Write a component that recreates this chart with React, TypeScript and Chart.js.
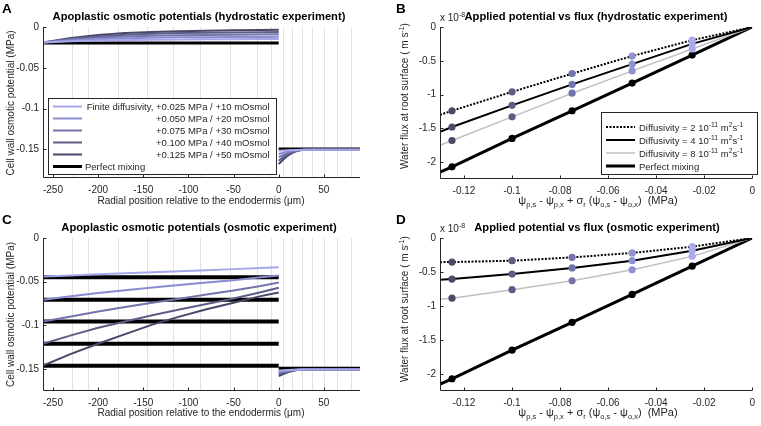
import React, { useEffect, useRef } from "react";
import { Chart, registerables } from "chart.js";

Chart.register(...registerables);

const FONT = '"Liberation Sans", Arial, Helvetica, sans-serif';
const INK = "#262626";

// ---------- Panels A & C : radial position (µm) ----------
const POS_TICKS = [-250, -200, -150, -100, -50, 0, 50];
const POS_TICK_LABELS = ["-250", "-200", "-150", "-100", "-50", "0", "50"];
const OSM_TICKS = [0, -0.05, -0.1, -0.15];
const OSM_TICK_LABELS = ["0", "-0.05", "-0.1", "-0.15"];
const CELL_WALLS = [-229, -211, -178, -146, -117, -87, -54, -24, -8, 5, 15, 26, 36.5, 50, 64, 80];

const POS_CORTEX = [-261, -230, -200, -170, -140, -110, -80, -50, -20, 0];
const POS_STELE = [0, 5, 10, 15, 20, 25, 30, 90];
const POS_MIX_CORTEX = [-261, 0];
const POS_MIX_STELE = [0, 90];

// Panel A (hydrostatic experiment)
const A_CORTEX_1 = [-0.019, -0.0175, -0.0165, -0.0159, -0.0155, -0.0152, -0.0151, -0.0149, -0.01485, -0.0148];
const A_CORTEX_2 = [-0.019, -0.0165, -0.0149, -0.0138, -0.0132, -0.0127, -0.0125, -0.0122, -0.0121, -0.012];
const A_CORTEX_3 = [-0.019, -0.0154, -0.0131, -0.0116, -0.0107, -0.01005, -0.00965, -0.00935, -0.0091, -0.009];
const A_CORTEX_4 = [-0.019, -0.0144, -0.0115, -0.0095, -0.0084, -0.0075, -0.007, -0.0067, -0.0064, -0.0062];
const A_CORTEX_5 = [-0.019, -0.0134, -0.0099, -0.0075, -0.0061, -0.0051, -0.0045, -0.004, -0.0037, -0.0035];
const A_STELE_1 = [-0.1515, -0.1512, -0.1509, -0.1507, -0.1506, -0.1505, -0.1505, -0.1505];
const A_STELE_2 = [-0.1555, -0.1539, -0.1526, -0.1516, -0.1509, -0.1506, -0.1505, -0.1505];
const A_STELE_3 = [-0.1595, -0.1566, -0.1542, -0.1524, -0.1512, -0.1506, -0.1505, -0.1505];
const A_STELE_4 = [-0.1638, -0.1595, -0.156, -0.1534, -0.1516, -0.1506, -0.1505, -0.1505];
const A_STELE_5 = [-0.168, -0.1623, -0.1577, -0.1543, -0.1519, -0.1507, -0.1505, -0.1505];
const A_MIX_CORTEX = [-0.0195, -0.0195];
const A_MIX_STELE = [-0.1495, -0.1495];

// Panel C (osmotic experiment)
const C_CORTEX_1 = [-0.044, -0.0428, -0.0416, -0.0404, -0.0392, -0.038, -0.0368, -0.0356, -0.0344, -0.0335];
const C_CORTEX_2 = [-0.0705, -0.0665, -0.063, -0.0597, -0.0566, -0.0537, -0.0509, -0.0482, -0.045, -0.043];
const C_CORTEX_3 = [-0.0955, -0.0897, -0.0841, -0.079, -0.074, -0.0694, -0.0647, -0.06, -0.0548, -0.0508];
const C_CORTEX_4 = [-0.121, -0.1114, -0.1027, -0.0954, -0.0883, -0.0819, -0.0755, -0.0691, -0.062, -0.0569];
const C_CORTEX_5 = [-0.146, -0.1326, -0.1209, -0.11, -0.0991, -0.0899, -0.0815, -0.074, -0.0665, -0.0623];
const C_STELE_1 = [-0.1515, -0.1512, -0.1509, -0.1507, -0.1506, -0.1505, -0.1505, -0.1505];
const C_STELE_2 = [-0.153, -0.1522, -0.1515, -0.151, -0.1507, -0.1505, -0.1505, -0.1505];
const C_STELE_3 = [-0.1545, -0.1532, -0.1522, -0.1514, -0.1508, -0.1505, -0.1505, -0.1505];
const C_STELE_4 = [-0.1562, -0.1543, -0.1529, -0.1517, -0.151, -0.1506, -0.1505, -0.1505];
const C_STELE_5 = [-0.158, -0.1556, -0.1536, -0.1521, -0.1511, -0.1506, -0.1505, -0.1505];
const C_MIX_LEVELS = [-0.045, -0.0705, -0.0955, -0.121, -0.146];
const C_MIX_STELE = [-0.1495, -0.1495];

const SHADES = ["#a6a6ea", "#8b8bd0", "#7474ae", "#5d5d88", "#474766"];
const A_LEGEND_LABELS = [
  "Finite diffusivity, +0.025 MPa / +10 mOsmol",
  "+0.050 MPa / +20 mOsmol",
  "+0.075 MPa / +30 mOsmol",
  "+0.100 MPa / +40 mOsmol",
  "+0.125 MPa / +50 mOsmol",
];

// ---------- Panels B & D : applied potential (MPa) vs flux (x 1e-8 m/s) ----------
const PSI_TICKS = [-0.12, -0.1, -0.08, -0.06, -0.04, -0.02, 0];
const PSI_TICK_LABELS = ["-0.12", "-0.1", "-0.08", "-0.06", "-0.04", "-0.02", "0"];
const FLUX_TICKS = [0, -0.5, -1, -1.5, -2];
const FLUX_TICK_LABELS = ["0", "-0.5", "-1", "-1.5", "-2"];

const PSI = [-0.13, -0.125, -0.1, -0.075, -0.05, -0.025, 0];
const B_D2 = [-1.3, -1.24, -0.96, -0.69, -0.43, -0.195, 0];
const B_D4 = [-1.55, -1.48, -1.16, -0.85, -0.55, -0.25, 0];
const B_D8 = [-1.75, -1.68, -1.33, -0.98, -0.65, -0.325, 0];
const B_MIX = [-2.15, -2.07, -1.65, -1.24, -0.83, -0.415, 0];
const D_D2 = [-0.355, -0.354, -0.334, -0.285, -0.22, -0.128, 0];
const D_D4 = [-0.614, -0.604, -0.53, -0.44, -0.334, -0.187, 0];
const D_D8 = [-0.9, -0.885, -0.76, -0.63, -0.467, -0.27, 0];
const D_MIX = [-2.15, -2.07, -1.65, -1.24, -0.83, -0.415, 0];
const DOT_COLORS = ["#4b4b69", "#5c5c85", "#7474ac", "#9090d3", "#a9a9ee"];

// ---------- helpers ----------
const pts = (xs: number[], ys: number[]) => xs.map((x, i) => ({ x, y: ys[i] }));

const line = (xs: number[], ys: number[], color: string, width: number, order: number, dash: number[] = []) => ({
  data: pts(xs, ys),
  showLine: true,
  borderColor: color,
  borderWidth: width,
  borderDash: dash,
  pointRadius: 0,
  fill: false,
  tension: 0,
  order,
});

const dots = (xs: number[], ys: number[], colors: string[] | string) => ({
  data: pts(xs, ys),
  showLine: false,
  pointRadius: 3.6,
  pointBackgroundColor: colors,
  pointBorderWidth: 0,
  order: 0,
});

const axesPlugin = {
  id: "matlabAxes",
  beforeDatasetsDraw(chart: any, _a: any, opts: any) {
    const walls: number[] = (opts && opts.walls) || [];
    const { ctx, chartArea: ca, scales } = chart;
    ctx.save();
    ctx.strokeStyle = "#e2e2e2";
    ctx.lineWidth = 1;
    for (const w of walls) {
      const px = Math.round(scales.x.getPixelForValue(w)) + 0.5;
      ctx.beginPath();
      ctx.moveTo(px, ca.top);
      ctx.lineTo(px, ca.bottom);
      ctx.stroke();
    }
    ctx.restore();
  },
  afterDatasetsDraw(chart: any) {
    const { ctx, chartArea: ca, scales } = chart;
    const L = Math.round(ca.left) + 0.5;
    const B = Math.round(ca.bottom) - 0.5;
    ctx.save();
    ctx.strokeStyle = INK;
    ctx.lineWidth = 1;
    ctx.beginPath();
    ctx.moveTo(L, ca.top);
    ctx.lineTo(L, B);
    ctx.lineTo(ca.right, B);
    for (const t of scales.x.ticks) {
      const px = Math.round(scales.x.getPixelForValue(t.value)) + 0.5;
      ctx.moveTo(px, B);
      ctx.lineTo(px, B - 3);
    }
    for (const t of scales.y.ticks) {
      const py = Math.round(scales.y.getPixelForValue(t.value)) + 0.5;
      ctx.moveTo(L, py);
      ctx.lineTo(L + 3, py);
    }
    ctx.stroke();
    ctx.restore();
  },
};

type Cfg = {
  datasets: any[];
  xMin: number; xMax: number; yMin: number; yMax: number;
  xTicks: number[]; xLabels: string[]; yTicks: number[]; yLabels: string[];
  yAxisWidth: number; xAxisHeight: number; padTop: number; padRight: number;
  walls?: number[];
};

function makeConfig(c: Cfg): any {
  const tickFont = { family: FONT, size: 10 };
  return {
    type: "scatter",
    data: { datasets: c.datasets },
    plugins: [axesPlugin],
    options: {
      responsive: false,
      maintainAspectRatio: false,
      animation: false,
      events: [],
      layout: { padding: { left: 0, right: c.padRight, top: c.padTop, bottom: 0 } },
      plugins: { legend: { display: false }, tooltip: { enabled: false }, title: { display: false }, matlabAxes: { walls: c.walls || [] } },
      scales: {
        x: {
          type: "linear", position: "bottom", min: c.xMin, max: c.xMax,
          grid: { display: false, drawTicks: false }, border: { display: false },
          ticks: { autoSkip: false, maxRotation: 0, minRotation: 0, padding: 6, color: INK, font: tickFont,
            callback: (_v: any, i: number) => c.xLabels[i] },
          afterBuildTicks: (s: any) => { s.ticks = c.xTicks.map((v) => ({ value: v })); },
          afterFit: (s: any) => { s.height = c.xAxisHeight; },
        },
        y: {
          type: "linear", position: "left", min: c.yMin, max: c.yMax,
          grid: { display: false, drawTicks: false }, border: { display: false },
          ticks: { autoSkip: false, padding: 4, color: INK, font: tickFont,
            callback: (_v: any, i: number) => c.yLabels[i] },
          afterBuildTicks: (s: any) => { s.ticks = c.yTicks.map((v) => ({ value: v })); },
          afterFit: (s: any) => { s.width = c.yAxisWidth; },
        },
      },
    },
  };
}

function ChartBox({ left, top, width, height, build }: { left: number; top: number; width: number; height: number; build: () => any }) {
  const ref = useRef<HTMLCanvasElement>(null);
  useEffect(() => {
    const chart = new Chart(ref.current as HTMLCanvasElement, build());
    return () => chart.destroy();
  }, []);
  return <canvas ref={ref} width={width} height={height} style={{ position: "absolute", left, top, width, height }} />;
}

// ---------- chart builders ----------
function osmoticDatasets(cortex: number[][], stele: number[][], mixCortex: number[][], mixStele: number[], mixWidth: number) {
  const ds: any[] = [];
  cortex.forEach((ys, i) => ds.push(line(POS_CORTEX, ys, SHADES[i], 2, 1)));
  stele.forEach((ys, i) => ds.push(line(POS_STELE, ys, SHADES[i], 2, 1)));
  mixCortex.forEach((ys) => ds.push(line(POS_MIX_CORTEX, ys, "#000000", mixWidth, 2)));
  ds.push(line(POS_MIX_STELE, mixStele, "#000000", mixWidth, 2));
  return ds;
}

function fluxDatasets(d2: number[], d4: number[], d8: number[], mix: number[]) {
  const dotX = PSI.slice(1, 6);
  return [
    dots(dotX, d2.slice(1, 6), DOT_COLORS),
    dots(dotX, d4.slice(1, 6), DOT_COLORS),
    dots(dotX, d8.slice(1, 6), DOT_COLORS),
    dots(dotX, mix.slice(1, 6), "#000000"),
    line(PSI, d2, "#000000", 2, 1, [2, 1.5]),
    line(PSI, d4, "#000000", 2, 1),
    line(PSI, d8, "#c0c0c0", 1.5, 1),
    line(PSI, mix, "#000000", 3, 1),
  ];
}

const buildA = () =>
  makeConfig({
    datasets: osmoticDatasets(
      [A_CORTEX_1, A_CORTEX_2, A_CORTEX_3, A_CORTEX_4, A_CORTEX_5],
      [A_STELE_1, A_STELE_2, A_STELE_3, A_STELE_4, A_STELE_5],
      [A_MIX_CORTEX], A_MIX_STELE, 3),
    xMin: -261, xMax: 90, yMin: -0.185, yMax: 0,
    xTicks: POS_TICKS, xLabels: POS_TICK_LABELS, yTicks: OSM_TICKS, yLabels: OSM_TICK_LABELS,
    yAxisWidth: 43, xAxisHeight: 35, padTop: 27, padRight: 20, walls: CELL_WALLS,
  });

const buildC = () =>
  makeConfig({
    datasets: osmoticDatasets(
      [C_CORTEX_1, C_CORTEX_2, C_CORTEX_3, C_CORTEX_4, C_CORTEX_5],
      [C_STELE_1, C_STELE_2, C_STELE_3, C_STELE_4, C_STELE_5],
      C_MIX_LEVELS.map((v) => [v, v]), C_MIX_STELE, 4),
    xMin: -261, xMax: 90, yMin: -0.175, yMax: 0,
    xTicks: POS_TICKS, xLabels: POS_TICK_LABELS, yTicks: OSM_TICKS, yLabels: OSM_TICK_LABELS,
    yAxisWidth: 43, xAxisHeight: 35, padTop: 25, padRight: 20, walls: CELL_WALLS,
  });

const buildB = () =>
  makeConfig({
    datasets: fluxDatasets(B_D2, B_D4, B_D8, B_MIX),
    xMin: -0.13, xMax: 0, yMin: -2.25, yMax: 0,
    xTicks: PSI_TICKS, xLabels: PSI_TICK_LABELS, yTicks: FLUX_TICKS, yLabels: FLUX_TICK_LABELS,
    yAxisWidth: 60, xAxisHeight: 34, padTop: 27, padRight: 4,
  });

const buildD = () =>
  makeConfig({
    datasets: fluxDatasets(D_D2, D_D4, D_D8, D_MIX),
    xMin: -0.13, xMax: 0, yMin: -2.25, yMax: 0,
    xTicks: PSI_TICKS, xLabels: PSI_TICK_LABELS, yTicks: FLUX_TICKS, yLabels: FLUX_TICK_LABELS,
    yAxisWidth: 60, xAxisHeight: 35, padTop: 25, padRight: 4,
  });

// ---------- text overlay pieces ----------
function PsiLabel({ cx, y }: { cx: number; y: number }) {
  const s = 7.5;
  return (
    <text x={cx} y={y} textAnchor="middle" fontSize={11} fill={INK} style={{ whiteSpace: "pre" }}>
      ψ<tspan dy={3} fontSize={s}>p,s</tspan>
      <tspan dy={-3}> - ψ</tspan><tspan dy={3} fontSize={s}>p,x</tspan>
      <tspan dy={-3}> + σ</tspan><tspan dy={3} fontSize={s}>r</tspan>
      <tspan dy={-3}> (ψ</tspan><tspan dy={3} fontSize={s}>o,s</tspan>
      <tspan dy={-3}> - ψ</tspan><tspan dy={3} fontSize={s}>o,x</tspan>
      <tspan dy={-3}>)  (MPa)</tspan>
    </text>
  );
}

function FluxYLabel({ x, cy }: { x: number; cy: number }) {
  return (
    <text transform={`translate(${x},${cy}) rotate(-90)`} textAnchor="middle" fontSize={10} fill={INK}>
      Water flux at root surface ( m s<tspan dy={-4} fontSize={7}>-1</tspan><tspan dy={4}>)</tspan>
    </text>
  );
}

function Exponent({ x, y }: { x: number; y: number }) {
  return (
    <text x={x} y={y} fontSize={10} fill={INK}>
      x 10<tspan dy={-4} fontSize={7}>-8</tspan>
    </text>
  );
}

const B_LEGEND = [
  { mant: "2", color: "#000000", width: 2, dash: "2 1.5" },
  { mant: "4", color: "#000000", width: 2, dash: "" },
  { mant: "8", color: "#c0c0c0", width: 1.5, dash: "" },
];

function FluxLegend() {
  const x0 = 601, y0 = 112, w = 156, h = 62;
  const rows = [127, 140, 153, 166];
  return (
    <g>
      <rect x={x0 + 0.5} y={y0 + 0.5} width={w} height={h} fill="#ffffff" stroke={INK} strokeWidth={1} />
      {B_LEGEND.map((r, i) => (
        <g key={i}>
          <line x1={606} x2={635} y1={rows[i]} y2={rows[i]} stroke={r.color} strokeWidth={r.width} strokeDasharray={r.dash || undefined} />
          <text x={639} y={rows[i] + 3.5} fontSize={9.5} fill={INK}>
            Diffusivity = {r.mant} 10<tspan dy={-4} fontSize={6.8}>-11</tspan>
            <tspan dy={4}> m</tspan><tspan dy={-4} fontSize={6.8}>2</tspan>
            <tspan dy={4}>s</tspan><tspan dy={-4} fontSize={6.8}>-1</tspan>
          </text>
        </g>
      ))}
      <line x1={606} x2={635} y1={rows[3]} y2={rows[3]} stroke="#000000" strokeWidth={3} />
      <text x={639} y={rows[3] + 3.5} fontSize={9.5} fill={INK}>Perfect mixing</text>
    </g>
  );
}

function OsmLegend() {
  const x0 = 48, y0 = 98, w = 228, h = 76;
  const rows = [106.5, 118.5, 130.5, 142.5, 154.5, 166.5];
  return (
    <g>
      <rect x={x0 + 0.5} y={y0 + 0.5} width={w} height={h} fill="#ffffff" stroke={INK} strokeWidth={1} />
      {A_LEGEND_LABELS.map((lab, i) => (
        <g key={i}>
          <line x1={53} x2={82} y1={rows[i]} y2={rows[i]} stroke={SHADES[i]} strokeWidth={2} />
          <text x={269.5} y={rows[i] + 3.4} fontSize={9.5} textAnchor="end" fill={INK}>{lab}</text>
        </g>
      ))}
      <line x1={53} x2={82} y1={rows[5]} y2={rows[5]} stroke="#000000" strokeWidth={3} />
      <text x={85} y={rows[5] + 3.4} fontSize={9.5} fill={INK}>Perfect mixing</text>
    </g>
  );
}

export default function App() {
  return (
    <div style={{ position: "absolute", left: 0, top: 0, width: 761, height: 426, background: "#ffffff", overflow: "hidden" }}>
      <ChartBox left={0} top={0} width={380} height={213} build={buildA} />
      <ChartBox left={380} top={0} width={381} height={213} build={buildB} />
      <ChartBox left={0} top={213} width={380} height={213} build={buildC} />
      <ChartBox left={380} top={213} width={381} height={213} build={buildD} />
      <svg width={761} height={426} style={{ position: "absolute", left: 0, top: 0, pointerEvents: "none" }} fontFamily={FONT}>
        {/* panel letters */}
        <text x={2} y={13} fontSize={13.5} fontWeight="bold" fill="#000">A</text>
        <text x={396} y={13} fontSize={13.5} fontWeight="bold" fill="#000">B</text>
        <text x={2} y={224} fontSize={13.5} fontWeight="bold" fill="#000">C</text>
        <text x={396} y={224} fontSize={13.5} fontWeight="bold" fill="#000">D</text>

        {/* titles */}
        <text x={199} y={19.5} fontSize={11.2} fontWeight="bold" textAnchor="middle" fill="#000">Apoplastic osmotic potentials (hydrostatic experiment)</text>
        <text x={596} y={19.5} fontSize={11.2} fontWeight="bold" textAnchor="middle" fill="#000">Applied potential vs flux (hydrostatic experiment)</text>
        <text x={199} y={230.5} fontSize={11.2} fontWeight="bold" textAnchor="middle" fill="#000">Apoplastic osmotic potentials (osmotic experiment)</text>
        <text x={597} y={230.5} fontSize={11.2} fontWeight="bold" textAnchor="middle" fill="#000">Applied potential vs flux (osmotic experiment)</text>

        {/* axis exponents */}
        <Exponent x={440} y={21} />
        <Exponent x={440} y={232} />

        {/* y labels */}
        <text transform="translate(13.5,103) rotate(-90)" textAnchor="middle" fontSize={10} fill={INK}>Cell wall osmotic potential (MPa)</text>
        <text transform="translate(13.5,314.5) rotate(-90)" textAnchor="middle" fontSize={10} fill={INK}>Cell wall osmotic potential (MPa)</text>
        <FluxYLabel x={408} cy={96} />
        <FluxYLabel x={408} cy={309} />

        {/* x labels */}
        <text x={201} y={203.5} textAnchor="middle" fontSize={10} fill={INK}>Radial position relative to the endodermis (μm)</text>
        <text x={201} y={415.5} textAnchor="middle" fontSize={10} fill={INK}>Radial position relative to the endodermis (μm)</text>
        <PsiLabel cx={598} y={203.5} />
        <PsiLabel cx={598} y={415.5} />

        {/* legends */}
        <OsmLegend />
        <FluxLegend />
      </svg>
    </div>
  );
}
